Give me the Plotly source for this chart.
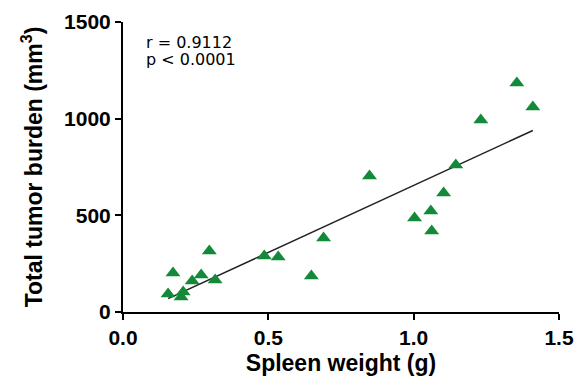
import numpy as np
import plotly.graph_objects as go

spleen_weight = [0.155, 0.172, 0.200, 0.207, 0.238, 0.269, 0.297, 0.317, 0.486, 0.534,
                 0.648, 0.690, 0.848, 1.003, 1.059, 1.062, 1.103, 1.145, 1.231, 1.355, 1.410]
tumor_burden = [93, 202, 78, 103, 160, 191, 316, 166, 290, 284,
                186, 383, 703, 486, 522, 419, 616, 760, 993, 1184, 1060]

x_ticks = [0.0, 0.5, 1.0, 1.5]
x_tick_labels = ["0.0", "0.5", "1.0", "1.5"]
y_ticks = [0, 500, 1000, 1500]
y_tick_labels = ["0", "500", "1000", "1500"]

stat_lines = ["r = 0.9112", "p < 0.0001"]

slope, intercept = np.polyfit(spleen_weight, tumor_burden, 1)
fit_x = [min(spleen_weight), max(spleen_weight)]
fit_y = [slope * v + intercept for v in fit_x]

fig = go.Figure()
fig.add_trace(go.Scatter(x=fit_x, y=fit_y, mode="lines",
                         line=dict(color="#222222", width=1.5), showlegend=False))
fig.add_trace(go.Scatter(x=spleen_weight, y=tumor_burden, mode="markers",
                         marker=dict(symbol="triangle-up", size=13, color="#138a3a"),
                         showlegend=False, cliponaxis=False))

font_b = "Liberation Sans, Arial, sans-serif"
axis_common = dict(showgrid=False, zeroline=False, showline=True, linecolor="black", linewidth=2,
                   ticks="outside", ticklen=6, tickwidth=2, tickcolor="black", automargin=False,
                   tickfont=dict(size=21, family=font_b, weight="bold", color="black"))
fig.update_layout(
    width=576, height=379,
    margin=dict(l=123, r=17, t=22, b=67),
    plot_bgcolor="white", paper_bgcolor="white",
    font=dict(family=font_b, color="black"),
    xaxis=dict(range=[0, 1.5], tickvals=x_ticks, ticktext=x_tick_labels,
               title=dict(text="<b>Spleen weight (g)</b>", font=dict(size=23), standoff=7),
               **axis_common),
    yaxis=dict(range=[0, 1500], tickvals=y_ticks, ticktext=y_tick_labels,
               title=dict(text="<b>Total tumor burden (mm<sup>3</sup>)</b>", font=dict(size=23), standoff=15),
               **axis_common),
    annotations=[dict(text=stat_lines[i], xref="paper", yref="paper",
                      x=0.048, y=[0.9293, 0.8707][i], xanchor="left", yanchor="middle", showarrow=False,
                      align="left", font=dict(size=16, family="DejaVu Sans, sans-serif", color="black"))
                 for i in range(len(stat_lines))],
)
fig.write_html("out.html", config={"displayModeBar": False},
               post_script="document.body.style.margin='0';document.body.style.padding='0';")
